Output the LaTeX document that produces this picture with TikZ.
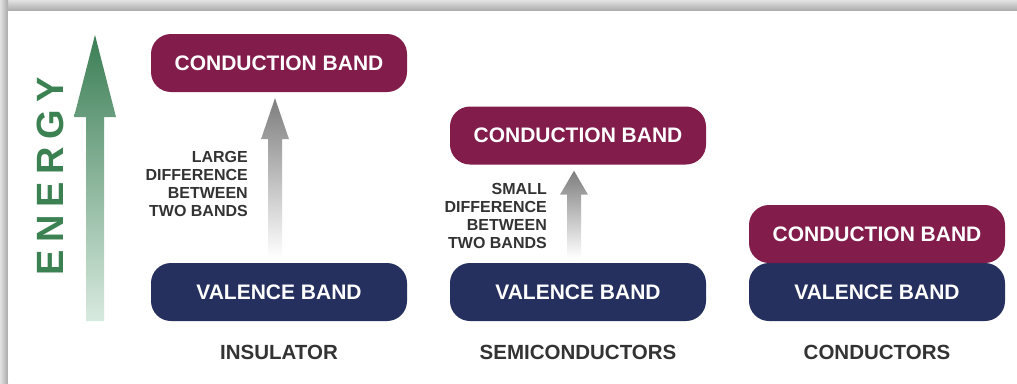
\documentclass[tikz,border=0pt]{standalone}
\usepackage{fontspec}
\setmainfont{Liberation Sans}
\newfontfamily\energyfont[LetterSpace=20]{Liberation Sans}
\usepackage{tikz}
\usetikzlibrary{calc, positioning, shadings}
\definecolor{condcol}{HTML}{811C4B}
\definecolor{valcol}{HTML}{26305E}
\definecolor{greentop}{HTML}{3B7E55}
\definecolor{greenbot}{HTML}{D8EADF}
\definecolor{energycol}{HTML}{3C8152}
\definecolor{textgray}{HTML}{333333}
\definecolor{arrowgray}{HTML}{7D7D7D}
\definecolor{shadowdark}{HTML}{A9A9A9}
\definecolor{shadowlight}{HTML}{E2E2E2}
\tikzset{
    bandnode/.style = {rectangle, rounded corners=20pt, inner sep=0pt, minimum width=256pt,
      minimum height=58pt, text=white, font=\fontsize{21}{25}\selectfont\bfseries, node distance=0em},
    kindnode/.style = {draw=none, fill=none, rectangle, inner sep=0pt, text=textgray,
      font=\fontsize{20.5}{24}\selectfont\bfseries, node distance=0em},
    gaptext/.style  = {draw=none, fill=none, rectangle, inner sep=0pt, text=textgray, align=right,
      font=\fontsize{16}{18}\selectfont\bfseries},
    gapshade/.style = {top color=arrowgray, bottom color=white}
}
% fat shaded arrow from one band up to the next: #1 lower band, #2 upper band, #3 head length
\newcommand{\gaparrow}[3]{%
  \shade[gapshade] ($(#1.north)+(-11,-5)$) -- ($(#2.south)+(-11,6+#3)$) -- ($(#2.south)+(-18,6+#3)$)
    -- ($(#2.south)+(-4,6)$) -- ($(#2.south)+(10,6+#3)$) -- ($(#2.south)+(3,6+#3)$)
    -- ($(#1.north)+(3,-5)$) -- cycle;}

\begin{document}
\begin{tikzpicture}[x=1pt, y=-1pt]
\useasboundingbox (0,0) rectangle (1017,383);
% frame with shadow
\shade[top color=shadowlight, bottom color=shadowdark] (0,0) rectangle (1017,11);
\shade[left color=shadowlight, right color=shadowdark] (0,0) rectangle (8,383);
\fill[white] (8,11) rectangle (1017,383);

% energy axis
\shade[top color=greentop, bottom color=greenbot] (86,321) -- (86,117) -- (74,117) -- (95,35)
  -- (116,117) -- (104,117) -- (104,321) -- cycle;
\node [name=Energy, rotate=90, inner sep=0pt, text=energycol] at (50,176)
  {\fontsize{38}{40}\selectfont\energyfont\bfseries ENERGY};

% insulator
\node [bandnode, fill=condcol, name=ICond] at (279,63) {CONDUCTION BAND};
\node [bandnode, fill=valcol, name=IVal, below of=ICond, yshift=-229pt] {VALENCE BAND};
\node [kindnode, name=IKind, below of=IVal, yshift=-60pt] {INSULATOR};
\gaparrow{IVal}{ICond}{41}
\node [gaptext, name=IGap, anchor=east] at (248,184) {LARGE\\DIFFERENCE\\BETWEEN\\TWO BANDS};

% semiconductors
\node [bandnode, fill=valcol, name=SVal, right of=IVal, xshift=299pt] {VALENCE BAND};
\node [bandnode, fill=condcol, name=SCond, above of=SVal, yshift=156.5pt] {CONDUCTION BAND};
\node [kindnode, name=SKind, below of=SVal, yshift=-60pt] {SEMICONDUCTORS};
\gaparrow{SVal}{SCond}{24}
\node [gaptext, name=SGap, anchor=east] at (547,216) {SMALL\\DIFFERENCE\\BETWEEN\\TWO BANDS};

% conductors
\node [bandnode, fill=valcol, name=CVal, right of=SVal, xshift=299pt] {VALENCE BAND};
\node [bandnode, fill=condcol, name=CCond, above of=CVal, yshift=58pt] {CONDUCTION BAND};
\node [kindnode, name=CKind, below of=CVal, yshift=-60pt] {CONDUCTORS};
\end{tikzpicture}
\end{document}
